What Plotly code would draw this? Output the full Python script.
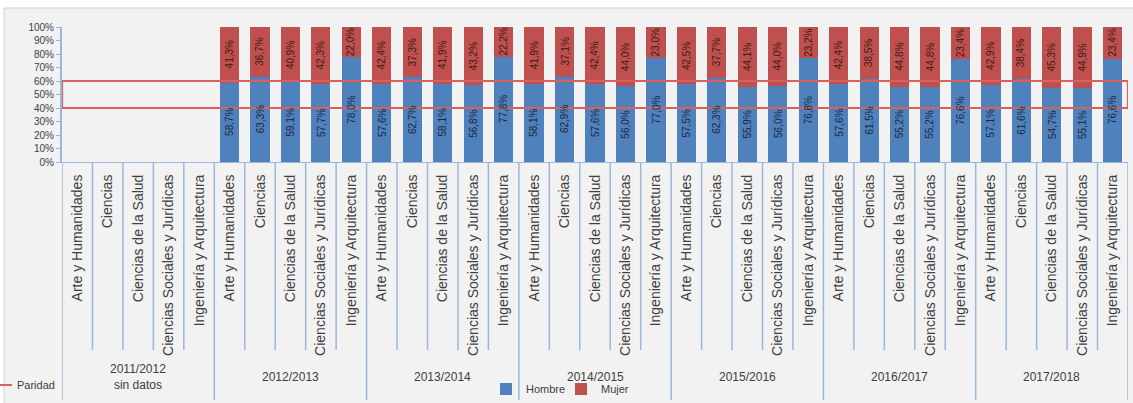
import plotly.graph_objects as go

years = ["2011/2012", "2012/2013", "2013/2014", "2014/2015", "2015/2016", "2016/2017", "2017/2018"]
year_labels = ["2011/2012<br>sin datos", "2012/2013", "2013/2014", "2014/2015", "2015/2016", "2016/2017", "2017/2018"]
areas = ["Arte y Humanidades", "Ciencias", "Ciencias de la Salud",
         "Ciencias Sociales y Jurídicas", "Ingeniería y Arquitectura"]

hombre_pct = [
    None, None, None, None, None,
    58.7, 63.3, 59.1, 57.7, 78.0,
    57.6, 62.7, 58.1, 56.8, 77.8,
    58.1, 62.9, 57.6, 56.0, 77.0,
    57.5, 62.3, 55.9, 56.0, 76.8,
    57.6, 61.5, 55.2, 55.2, 76.6,
    57.1, 61.6, 54.7, 55.1, 76.6,
]
mujer_pct = [
    None, None, None, None, None,
    41.3, 36.7, 40.9, 42.3, 22.0,
    42.4, 37.3, 41.9, 43.2, 22.2,
    41.9, 37.1, 42.4, 44.0, 23.0,
    42.5, 37.7, 44.1, 44.0, 23.2,
    42.4, 38.5, 44.8, 44.8, 23.4,
    42.9, 38.4, 45.3, 44.9, 23.4,
]
paridad_bounds = [40, 60]
y_ticks = list(range(0, 101, 10))

FONT = "Liberation Sans"
AXIS_BLUE = "#9bb7db"
n_areas = len(areas)
n_cat = len(years) * n_areas
xs = list(range(n_cat))
tick_text = [areas[i % n_areas] for i in xs]

# plot area in pixels
W, H = 1133, 403
L, R, T, B = 62, 5, 27, 241
plot_h = H - T - B


def py(pix_y):
    """pixel y -> paper y"""
    return (H - B - pix_y) / plot_h


def px(pix_x):
    return (pix_x - L) / (W - L - R)


def fmt(v):
    return f"{v:.1f}%".replace(".", ",")


fig = go.Figure()
fig.add_trace(go.Bar(
    x=xs, y=hombre_pct, name="Hombre", marker=dict(color="#4f81bd", line=dict(width=0)),
    legend="legend", hoverinfo="skip",
))
fig.add_trace(go.Bar(
    x=xs, y=mujer_pct, name="Mujer", marker=dict(color="#c0504d", line=dict(width=0)),
    legend="legend", hoverinfo="skip",
))
lo, hi = paridad_bounds
x0, x1 = -0.5, n_cat - 0.5
fig.add_trace(go.Scatter(
    x=[x0, x1, x1, x0, x0], y=[hi, hi, lo, lo, hi], mode="lines", name="Paridad",
    line=dict(color="#d9605c", width=2.2), legend="legend2", hoverinfo="skip",
))

# data labels centred in each segment, rotated
for x, h, m in zip(xs, hombre_pct, mujer_pct):
    if h is None:
        continue
    fig.add_annotation(x=x, y=h / 2, xref="x", yref="y", text=fmt(h), textangle=-90,
                       showarrow=False, font=dict(family=FONT, size=10, color="#1c2840"))
    fig.add_annotation(x=x, y=h + m / 2, xref="x", yref="y", text=fmt(m), textangle=-90,
                       showarrow=False, font=dict(family=FONT, size=10, color="#3a1a1a"))

shapes = []
# gray chart background
shapes.append(dict(type="rect", xref="paper", yref="paper", x0=px(4), x1=px(W + 2), y0=py(H + 2), y1=py(8),
                   fillcolor="#f2f2f2", line=dict(color="#d0d0d0", width=1), layer="below"))
# category separators in label area
for k in range(n_cat + 1):
    xb = k - 0.5
    bottom = 400 if k % n_areas == 0 else 350
    shapes.append(dict(type="line", xref="x", yref="paper", x0=xb, x1=xb, y0=0, y1=py(bottom),
                       line=dict(color=AXIS_BLUE, width=1.5), layer="above"))
fig.update_layout(shapes=shapes)

for i, lab in enumerate(year_labels):
    cx = i * n_areas + (n_areas - 1) / 2
    fig.add_annotation(x=cx, xref="x", y=py(377), yref="paper", text=lab, showarrow=False,
                       font=dict(family=FONT, size=12, color="#404040"), yanchor="middle")

fig.update_layout(
    width=W, height=H,
    margin=dict(l=L, r=R, t=T, b=B, pad=0, autoexpand=False),
    paper_bgcolor="white", plot_bgcolor="white",
    barmode="stack", bargap=0.37,
    font=dict(family=FONT, size=11, color="#404040"),
    xaxis=dict(
        range=[x0, x1], tickmode="array", tickvals=xs, ticktext=tick_text, tickangle=-90,
        tickfont=dict(family=FONT, size=14, color="#404040"), ticks="", showgrid=False,
        showline=True, linecolor=AXIS_BLUE, linewidth=1, zeroline=False, ticklabelstandoff=6,
        automargin=False,
    ),
    yaxis=dict(
        range=[0, 100], tickmode="array", tickvals=y_ticks, ticktext=[f"{v}%" for v in y_ticks],
        tickfont=dict(family=FONT, size=10, color="#404040"), ticks="outside", ticklen=4,
        tickcolor=AXIS_BLUE, showgrid=False, showline=True, linecolor=AXIS_BLUE, linewidth=2,
        zeroline=False, automargin=False,
    ),
    legend=dict(orientation="h", x=px(486), y=py(389), xanchor="left", yanchor="middle",
                bgcolor="rgba(0,0,0,0)", font=dict(family=FONT, size=11, color="#404040"),
                itemwidth=30, entrywidth=30, traceorder="normal"),
    legend2=dict(orientation="h", x=px(-23), y=py(385), xanchor="left", yanchor="middle",
                 bgcolor="rgba(0,0,0,0)", font=dict(family=FONT, size=11, color="#404040"),
                 itemwidth=30),
    showlegend=True,
)

fig.write_html("out.html", config={"displayModeBar": False},
               post_script="document.body.style.margin='0';document.body.style.overflow='hidden';")
